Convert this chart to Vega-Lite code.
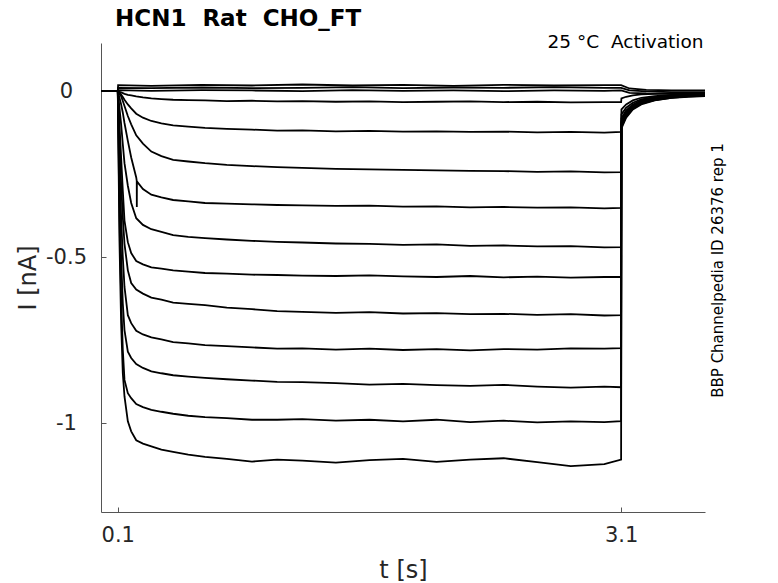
{
"$schema": "https://vega.github.io/schema/vega-lite/v6.json",
"width": 604, "height": 469,
"autosize": "none",
"padding": {"left": 101, "top": 43, "right": 73, "bottom": 71},
"background": "white",
"title": {"text": "HCN1 \u00a0Rat \u00a0CHO_FT", "anchor": "start", "frame": "group", "dx": 14, "dy": 25, "offset": 8, "baseline": "alphabetic", "fontSize": 23, "fontWeight": "bold", "font": "DejaVu Sans", "color": "#000000"},
"config": {
  "view": {"stroke": null},
  "axis": {"grid": false, "domainColor": "#555555", "tickColor": "#555555", "labelColor": "#262626", "titleColor": "#262626", "labelFont": "DejaVu Sans", "titleFont": "DejaVu Sans", "labelFontSize": 21, "titleFontSize": 24, "titleFontWeight": "normal", "tickSize": -5}
},
"datasets": {
"tr": [
{"s":2,"t":0,"i":0},{"s":2,"t":0.1,"i":0},{"s":2,"t":0.11,"i":-0.002},{"s":2,"t":0.12,"i":-0.004},{"s":2,"t":0.13,"i":-0.006},{"s":2,"t":0.14,"i":-0.008},{"s":2,"t":0.16,"i":-0.011},{"s":2,"t":0.18,"i":-0.013},{"s":2,"t":0.21,"i":-0.016},{"s":2,"t":0.25,"i":-0.019},{"s":2,"t":0.3,"i":-0.022},{"s":2,"t":0.36,"i":-0.024},{"s":2,"t":0.43,"i":-0.026},{"s":2,"t":0.52,"i":-0.027},{"s":2,"t":0.62,"i":-0.028},{"s":2,"t":0.75,"i":-0.03},{"s":2,"t":0.9,"i":-0.029},{"s":2,"t":1.05,"i":-0.031},{"s":2,"t":1.2,"i":-0.03},{"s":2,"t":1.4,"i":-0.032},{"s":2,"t":1.6,"i":-0.031},{"s":2,"t":1.8,"i":-0.033},{"s":2,"t":2.0,"i":-0.032},{"s":2,"t":2.2,"i":-0.031},{"s":2,"t":2.4,"i":-0.033},{"s":2,"t":2.6,"i":-0.032},{"s":2,"t":2.8,"i":-0.034},{"s":2,"t":3.0,"i":-0.033},{"s":2,"t":3.1,"i":-0.033},{"s":2,"t":3.102,"i":-0.022},{"s":2,"t":3.13,"i":-0.017},{"s":2,"t":3.17,"i":-0.013},{"s":2,"t":3.22,"i":-0.01},{"s":2,"t":3.3,"i":-0.008},{"s":2,"t":3.4,"i":-0.007},{"s":2,"t":3.5,"i":-0.006},{"s":2,"t":3.6,"i":-0.006},
{"s":3,"t":0,"i":0},{"s":3,"t":0.1,"i":0},{"s":3,"t":0.11,"i":-0.005},{"s":3,"t":0.12,"i":-0.01},{"s":3,"t":0.13,"i":-0.018},{"s":3,"t":0.14,"i":-0.026},{"s":3,"t":0.16,"i":-0.04},{"s":3,"t":0.18,"i":-0.052},{"s":3,"t":0.21,"i":-0.068},{"s":3,"t":0.25,"i":-0.08},{"s":3,"t":0.3,"i":-0.09},{"s":3,"t":0.36,"i":-0.097},{"s":3,"t":0.43,"i":-0.103},{"s":3,"t":0.52,"i":-0.107},{"s":3,"t":0.62,"i":-0.111},{"s":3,"t":0.75,"i":-0.114},{"s":3,"t":0.9,"i":-0.116},{"s":3,"t":1.05,"i":-0.119},{"s":3,"t":1.2,"i":-0.118},{"s":3,"t":1.4,"i":-0.121},{"s":3,"t":1.6,"i":-0.12},{"s":3,"t":1.8,"i":-0.122},{"s":3,"t":2.0,"i":-0.121},{"s":3,"t":2.2,"i":-0.123},{"s":3,"t":2.4,"i":-0.122},{"s":3,"t":2.6,"i":-0.124},{"s":3,"t":2.8,"i":-0.123},{"s":3,"t":3.0,"i":-0.125},{"s":3,"t":3.1,"i":-0.123},{"s":3,"t":3.102,"i":-0.055},{"s":3,"t":3.13,"i":-0.04},{"s":3,"t":3.17,"i":-0.028},{"s":3,"t":3.22,"i":-0.02},{"s":3,"t":3.3,"i":-0.015},{"s":3,"t":3.4,"i":-0.011},{"s":3,"t":3.5,"i":-0.009},{"s":3,"t":3.6,"i":-0.008},
{"s":4,"t":0,"i":0},{"s":4,"t":0.1,"i":0},{"s":4,"t":0.11,"i":-0.008},{"s":4,"t":0.12,"i":-0.015},{"s":4,"t":0.13,"i":-0.03},{"s":4,"t":0.14,"i":-0.045},{"s":4,"t":0.16,"i":-0.075},{"s":4,"t":0.18,"i":-0.1},{"s":4,"t":0.21,"i":-0.133},{"s":4,"t":0.25,"i":-0.158},{"s":4,"t":0.3,"i":-0.182},{"s":4,"t":0.36,"i":-0.196},{"s":4,"t":0.43,"i":-0.207},{"s":4,"t":0.52,"i":-0.212},{"s":4,"t":0.62,"i":-0.217},{"s":4,"t":0.75,"i":-0.222},{"s":4,"t":0.9,"i":-0.226},{"s":4,"t":1.05,"i":-0.229},{"s":4,"t":1.2,"i":-0.231},{"s":4,"t":1.4,"i":-0.234},{"s":4,"t":1.6,"i":-0.236},{"s":4,"t":1.8,"i":-0.237},{"s":4,"t":2.0,"i":-0.239},{"s":4,"t":2.2,"i":-0.24},{"s":4,"t":2.4,"i":-0.241},{"s":4,"t":2.6,"i":-0.243},{"s":4,"t":2.8,"i":-0.242},{"s":4,"t":3.0,"i":-0.245},{"s":4,"t":3.1,"i":-0.244},{"s":4,"t":3.102,"i":-0.07},{"s":4,"t":3.13,"i":-0.05},{"s":4,"t":3.17,"i":-0.035},{"s":4,"t":3.22,"i":-0.025},{"s":4,"t":3.3,"i":-0.018},{"s":4,"t":3.4,"i":-0.013},{"s":4,"t":3.5,"i":-0.011},{"s":4,"t":3.6,"i":-0.009},
{"s":5,"t":0,"i":0},{"s":5,"t":0.1,"i":0},{"s":5,"t":0.11,"i":-0.02},{"s":5,"t":0.12,"i":-0.04},{"s":5,"t":0.13,"i":-0.065},{"s":5,"t":0.14,"i":-0.096},{"s":5,"t":0.16,"i":-0.15},{"s":5,"t":0.18,"i":-0.2},{"s":5,"t":0.21,"i":-0.26},{"s":5,"t":0.213,"i":-0.27},{"s":5,"t":0.2135,"i":-0.349},{"s":5,"t":0.214,"i":-0.272},{"s":5,"t":0.25,"i":-0.295},{"s":5,"t":0.3,"i":-0.312},{"s":5,"t":0.36,"i":-0.32},{"s":5,"t":0.43,"i":-0.328},{"s":5,"t":0.52,"i":-0.332},{"s":5,"t":0.62,"i":-0.337},{"s":5,"t":0.75,"i":-0.339},{"s":5,"t":0.9,"i":-0.341},{"s":5,"t":1.05,"i":-0.343},{"s":5,"t":1.2,"i":-0.344},{"s":5,"t":1.4,"i":-0.346},{"s":5,"t":1.6,"i":-0.345},{"s":5,"t":1.8,"i":-0.348},{"s":5,"t":2.0,"i":-0.347},{"s":5,"t":2.2,"i":-0.35},{"s":5,"t":2.4,"i":-0.349},{"s":5,"t":2.6,"i":-0.351},{"s":5,"t":2.8,"i":-0.35},{"s":5,"t":3.0,"i":-0.353},{"s":5,"t":3.1,"i":-0.352},{"s":5,"t":3.102,"i":-0.082},{"s":5,"t":3.13,"i":-0.058},{"s":5,"t":3.17,"i":-0.04},{"s":5,"t":3.22,"i":-0.028},{"s":5,"t":3.3,"i":-0.02},{"s":5,"t":3.4,"i":-0.015},{"s":5,"t":3.5,"i":-0.012},{"s":5,"t":3.6,"i":-0.01},
{"s":6,"t":0,"i":0},{"s":6,"t":0.1,"i":0},{"s":6,"t":0.11,"i":-0.05},{"s":6,"t":0.12,"i":-0.1},{"s":6,"t":0.13,"i":-0.16},{"s":6,"t":0.14,"i":-0.217},{"s":6,"t":0.16,"i":-0.285},{"s":6,"t":0.18,"i":-0.337},{"s":6,"t":0.21,"i":-0.383},{"s":6,"t":0.25,"i":-0.403},{"s":6,"t":0.3,"i":-0.416},{"s":6,"t":0.36,"i":-0.424},{"s":6,"t":0.43,"i":-0.434},{"s":6,"t":0.52,"i":-0.439},{"s":6,"t":0.62,"i":-0.443},{"s":6,"t":0.75,"i":-0.447},{"s":6,"t":0.9,"i":-0.451},{"s":6,"t":1.05,"i":-0.454},{"s":6,"t":1.2,"i":-0.456},{"s":6,"t":1.4,"i":-0.459},{"s":6,"t":1.6,"i":-0.46},{"s":6,"t":1.8,"i":-0.463},{"s":6,"t":2.0,"i":-0.462},{"s":6,"t":2.2,"i":-0.466},{"s":6,"t":2.4,"i":-0.465},{"s":6,"t":2.6,"i":-0.468},{"s":6,"t":2.8,"i":-0.467},{"s":6,"t":3.0,"i":-0.471},{"s":6,"t":3.1,"i":-0.47},{"s":6,"t":3.102,"i":-0.09},{"s":6,"t":3.13,"i":-0.064},{"s":6,"t":3.17,"i":-0.044},{"s":6,"t":3.22,"i":-0.031},{"s":6,"t":3.3,"i":-0.022},{"s":6,"t":3.4,"i":-0.016},{"s":6,"t":3.5,"i":-0.013},{"s":6,"t":3.6,"i":-0.011},
{"s":7,"t":0,"i":0},{"s":7,"t":0.1,"i":0},{"s":7,"t":0.11,"i":-0.1},{"s":7,"t":0.12,"i":-0.2},{"s":7,"t":0.13,"i":-0.3},{"s":7,"t":0.14,"i":-0.39},{"s":7,"t":0.16,"i":-0.455},{"s":7,"t":0.18,"i":-0.488},{"s":7,"t":0.21,"i":-0.512},{"s":7,"t":0.25,"i":-0.522},{"s":7,"t":0.3,"i":-0.531},{"s":7,"t":0.36,"i":-0.535},{"s":7,"t":0.43,"i":-0.54},{"s":7,"t":0.52,"i":-0.544},{"s":7,"t":0.62,"i":-0.548},{"s":7,"t":0.75,"i":-0.55},{"s":7,"t":0.9,"i":-0.553},{"s":7,"t":1.05,"i":-0.554},{"s":7,"t":1.2,"i":-0.556},{"s":7,"t":1.4,"i":-0.557},{"s":7,"t":1.6,"i":-0.555},{"s":7,"t":1.8,"i":-0.558},{"s":7,"t":2.0,"i":-0.56},{"s":7,"t":2.2,"i":-0.557},{"s":7,"t":2.4,"i":-0.561},{"s":7,"t":2.6,"i":-0.559},{"s":7,"t":2.8,"i":-0.562},{"s":7,"t":3.0,"i":-0.56},{"s":7,"t":3.1,"i":-0.56},{"s":7,"t":3.102,"i":-0.094},{"s":7,"t":3.13,"i":-0.067},{"s":7,"t":3.17,"i":-0.046},{"s":7,"t":3.22,"i":-0.033},{"s":7,"t":3.3,"i":-0.023},{"s":7,"t":3.4,"i":-0.017},{"s":7,"t":3.5,"i":-0.014},{"s":7,"t":3.6,"i":-0.012},
{"s":8,"t":0,"i":0},{"s":8,"t":0.1,"i":0},{"s":8,"t":0.11,"i":-0.15},{"s":8,"t":0.12,"i":-0.28},{"s":8,"t":0.13,"i":-0.38},{"s":8,"t":0.14,"i":-0.46},{"s":8,"t":0.16,"i":-0.54},{"s":8,"t":0.18,"i":-0.578},{"s":8,"t":0.21,"i":-0.598},{"s":8,"t":0.25,"i":-0.61},{"s":8,"t":0.3,"i":-0.622},{"s":8,"t":0.36,"i":-0.628},{"s":8,"t":0.43,"i":-0.637},{"s":8,"t":0.52,"i":-0.641},{"s":8,"t":0.62,"i":-0.645},{"s":8,"t":0.75,"i":-0.652},{"s":8,"t":0.9,"i":-0.657},{"s":8,"t":1.05,"i":-0.663},{"s":8,"t":1.2,"i":-0.665},{"s":8,"t":1.4,"i":-0.668},{"s":8,"t":1.6,"i":-0.666},{"s":8,"t":1.8,"i":-0.67},{"s":8,"t":2.0,"i":-0.669},{"s":8,"t":2.2,"i":-0.672},{"s":8,"t":2.4,"i":-0.671},{"s":8,"t":2.6,"i":-0.674},{"s":8,"t":2.8,"i":-0.672},{"s":8,"t":3.0,"i":-0.676},{"s":8,"t":3.1,"i":-0.675},{"s":8,"t":3.102,"i":-0.097},{"s":8,"t":3.13,"i":-0.069},{"s":8,"t":3.17,"i":-0.048},{"s":8,"t":3.22,"i":-0.034},{"s":8,"t":3.3,"i":-0.024},{"s":8,"t":3.4,"i":-0.018},{"s":8,"t":3.5,"i":-0.014},{"s":8,"t":3.6,"i":-0.012},
{"s":9,"t":0,"i":0},{"s":9,"t":0.1,"i":0},{"s":9,"t":0.11,"i":-0.22},{"s":9,"t":0.12,"i":-0.38},{"s":9,"t":0.13,"i":-0.5},{"s":9,"t":0.14,"i":-0.59},{"s":9,"t":0.16,"i":-0.675},{"s":9,"t":0.18,"i":-0.699},{"s":9,"t":0.21,"i":-0.722},{"s":9,"t":0.25,"i":-0.733},{"s":9,"t":0.3,"i":-0.742},{"s":9,"t":0.36,"i":-0.748},{"s":9,"t":0.43,"i":-0.756},{"s":9,"t":0.52,"i":-0.76},{"s":9,"t":0.62,"i":-0.765},{"s":9,"t":0.75,"i":-0.768},{"s":9,"t":0.9,"i":-0.772},{"s":9,"t":1.05,"i":-0.776},{"s":9,"t":1.2,"i":-0.775},{"s":9,"t":1.4,"i":-0.779},{"s":9,"t":1.6,"i":-0.776},{"s":9,"t":1.8,"i":-0.78},{"s":9,"t":2.0,"i":-0.777},{"s":9,"t":2.2,"i":-0.781},{"s":9,"t":2.4,"i":-0.777},{"s":9,"t":2.6,"i":-0.779},{"s":9,"t":2.8,"i":-0.775},{"s":9,"t":3.0,"i":-0.776},{"s":9,"t":3.1,"i":-0.774},{"s":9,"t":3.102,"i":-0.1},{"s":9,"t":3.13,"i":-0.071},{"s":9,"t":3.17,"i":-0.049},{"s":9,"t":3.22,"i":-0.035},{"s":9,"t":3.3,"i":-0.025},{"s":9,"t":3.4,"i":-0.018},{"s":9,"t":3.5,"i":-0.015},{"s":9,"t":3.6,"i":-0.013},
{"s":10,"t":0,"i":0},{"s":10,"t":0.1,"i":0},{"s":10,"t":0.11,"i":-0.3},{"s":10,"t":0.12,"i":-0.5},{"s":10,"t":0.13,"i":-0.64},{"s":10,"t":0.14,"i":-0.72},{"s":10,"t":0.16,"i":-0.785},{"s":10,"t":0.18,"i":-0.804},{"s":10,"t":0.21,"i":-0.822},{"s":10,"t":0.25,"i":-0.834},{"s":10,"t":0.3,"i":-0.844},{"s":10,"t":0.36,"i":-0.85},{"s":10,"t":0.43,"i":-0.856},{"s":10,"t":0.52,"i":-0.86},{"s":10,"t":0.62,"i":-0.864},{"s":10,"t":0.75,"i":-0.868},{"s":10,"t":0.9,"i":-0.872},{"s":10,"t":1.05,"i":-0.876},{"s":10,"t":1.2,"i":-0.877},{"s":10,"t":1.4,"i":-0.88},{"s":10,"t":1.6,"i":-0.884},{"s":10,"t":1.8,"i":-0.882},{"s":10,"t":2.0,"i":-0.886},{"s":10,"t":2.2,"i":-0.888},{"s":10,"t":2.4,"i":-0.885},{"s":10,"t":2.6,"i":-0.89},{"s":10,"t":2.8,"i":-0.893},{"s":10,"t":3.0,"i":-0.89},{"s":10,"t":3.1,"i":-0.892},{"s":10,"t":3.102,"i":-0.104},{"s":10,"t":3.13,"i":-0.074},{"s":10,"t":3.17,"i":-0.051},{"s":10,"t":3.22,"i":-0.037},{"s":10,"t":3.3,"i":-0.026},{"s":10,"t":3.4,"i":-0.019},{"s":10,"t":3.5,"i":-0.015},{"s":10,"t":3.6,"i":-0.013},
{"s":11,"t":0,"i":0},{"s":11,"t":0.1,"i":0},{"s":11,"t":0.11,"i":-0.38},{"s":11,"t":0.12,"i":-0.62},{"s":11,"t":0.13,"i":-0.78},{"s":11,"t":0.14,"i":-0.87},{"s":11,"t":0.16,"i":-0.91},{"s":11,"t":0.18,"i":-0.925},{"s":11,"t":0.21,"i":-0.943},{"s":11,"t":0.25,"i":-0.952},{"s":11,"t":0.3,"i":-0.96},{"s":11,"t":0.36,"i":-0.966},{"s":11,"t":0.43,"i":-0.972},{"s":11,"t":0.52,"i":-0.978},{"s":11,"t":0.62,"i":-0.982},{"s":11,"t":0.75,"i":-0.985},{"s":11,"t":0.9,"i":-0.99},{"s":11,"t":1.05,"i":-0.99},{"s":11,"t":1.2,"i":-0.988},{"s":11,"t":1.4,"i":-0.993},{"s":11,"t":1.6,"i":-0.99},{"s":11,"t":1.8,"i":-0.995},{"s":11,"t":2.0,"i":-0.99},{"s":11,"t":2.2,"i":-0.997},{"s":11,"t":2.4,"i":-0.993},{"s":11,"t":2.6,"i":-0.998},{"s":11,"t":2.8,"i":-0.995},{"s":11,"t":3.0,"i":-0.997},{"s":11,"t":3.1,"i":-0.994},{"s":11,"t":3.102,"i":-0.108},{"s":11,"t":3.13,"i":-0.077},{"s":11,"t":3.17,"i":-0.053},{"s":11,"t":3.22,"i":-0.038},{"s":11,"t":3.3,"i":-0.027},{"s":11,"t":3.4,"i":-0.02},{"s":11,"t":3.5,"i":-0.016},{"s":11,"t":3.6,"i":-0.014},
{"s":12,"t":0,"i":0},{"s":12,"t":0.1,"i":0},{"s":12,"t":0.11,"i":-0.45},{"s":12,"t":0.12,"i":-0.7},{"s":12,"t":0.13,"i":-0.85},{"s":12,"t":0.14,"i":-0.92},{"s":12,"t":0.16,"i":-0.995},{"s":12,"t":0.18,"i":-1.025},{"s":12,"t":0.21,"i":-1.052},{"s":12,"t":0.25,"i":-1.062},{"s":12,"t":0.3,"i":-1.07},{"s":12,"t":0.36,"i":-1.08},{"s":12,"t":0.43,"i":-1.087},{"s":12,"t":0.52,"i":-1.095},{"s":12,"t":0.62,"i":-1.102},{"s":12,"t":0.75,"i":-1.108},{"s":12,"t":0.9,"i":-1.116},{"s":12,"t":1.05,"i":-1.11},{"s":12,"t":1.2,"i":-1.113},{"s":12,"t":1.4,"i":-1.119},{"s":12,"t":1.6,"i":-1.112},{"s":12,"t":1.8,"i":-1.108},{"s":12,"t":2.0,"i":-1.117},{"s":12,"t":2.2,"i":-1.11},{"s":12,"t":2.4,"i":-1.106},{"s":12,"t":2.6,"i":-1.118},{"s":12,"t":2.8,"i":-1.13},{"s":12,"t":3.0,"i":-1.124},{"s":12,"t":3.1,"i":-1.11},{"s":12,"t":3.102,"i":-0.112},{"s":12,"t":3.13,"i":-0.08},{"s":12,"t":3.17,"i":-0.055},{"s":12,"t":3.22,"i":-0.04},{"s":12,"t":3.3,"i":-0.028},{"s":12,"t":3.4,"i":-0.02},{"s":12,"t":3.5,"i":-0.017},{"s":12,"t":3.6,"i":-0.015},
{"s":13,"t":0,"i":0},{"s":13,"t":0.1,"i":0},{"s":13,"t":0.102,"i":0.018},{"s":13,"t":0.3,"i":0.016},{"s":13,"t":0.6,"i":0.019},{"s":13,"t":0.9,"i":0.017},{"s":13,"t":1.2,"i":0.02},{"s":13,"t":1.5,"i":0.017},{"s":13,"t":1.8,"i":0.019},{"s":13,"t":2.1,"i":0.016},{"s":13,"t":2.4,"i":0.019},{"s":13,"t":2.7,"i":0.017},{"s":13,"t":3.0,"i":0.018},{"s":13,"t":3.1,"i":0.018},{"s":13,"t":3.15,"i":0.008},{"s":13,"t":3.25,"i":0.004},{"s":13,"t":3.4,"i":0.002},{"s":13,"t":3.6,"i":0.002},
{"s":14,"t":0,"i":0},{"s":14,"t":0.1,"i":0},{"s":14,"t":0.102,"i":0.01},{"s":14,"t":0.3,"i":0.009},{"s":14,"t":0.6,"i":0.011},{"s":14,"t":0.9,"i":0.009},{"s":14,"t":1.2,"i":0.01},{"s":14,"t":1.5,"i":0.012},{"s":14,"t":1.8,"i":0.009},{"s":14,"t":2.1,"i":0.011},{"s":14,"t":2.4,"i":0.01},{"s":14,"t":2.7,"i":0.012},{"s":14,"t":3.0,"i":0.01},{"s":14,"t":3.1,"i":0.01},{"s":14,"t":3.15,"i":0.002},{"s":14,"t":3.25,"i":-0.001},{"s":14,"t":3.4,"i":-0.003},{"s":14,"t":3.6,"i":-0.003},
{"s":15,"t":0,"i":0},{"s":15,"t":0.1,"i":0},{"s":15,"t":0.102,"i":0.003},{"s":15,"t":0.3,"i":0.001},{"s":15,"t":0.6,"i":0.003},{"s":15,"t":0.9,"i":0.002},{"s":15,"t":1.2,"i":0.0},{"s":15,"t":1.5,"i":0.003},{"s":15,"t":1.8,"i":0.001},{"s":15,"t":2.1,"i":0.002},{"s":15,"t":2.4,"i":0.0},{"s":15,"t":2.7,"i":0.002},{"s":15,"t":3.0,"i":0.001},{"s":15,"t":3.1,"i":0.002},{"s":15,"t":3.15,"i":-0.005},{"s":15,"t":3.25,"i":-0.007},{"s":15,"t":3.4,"i":-0.008},{"s":15,"t":3.6,"i":-0.008}
]
},
"data": {"name": "tr"},
"layer": [
  {
    "mark": {"type": "line", "color": "#000000", "strokeWidth": 1.8},
    "encoding": {
      "x": {"field": "t", "type": "quantitative", "scale": {"domain": [0, 3.6], "nice": false, "zero": false},
            "axis": {"values": [0.1, 3.1], "labelExpr": "format(datum.value, '.1f')", "title": "t [s]", "labelPadding": 34, "labelBaseline": "alphabetic", "titleY": 65, "titleBaseline": "alphabetic"}},
      "y": {"field": "i", "type": "quantitative", "scale": {"domain": [-1.268, 0.145], "nice": false, "zero": false},
            "axis": {"values": [0, -0.5, -1], "labelExpr": "datum.value == 0 ? '0' : (datum.value == -0.5 ? '-0.5' : '-1')", "title": "I [nA]", "labelAlign": "center", "labelPadding": 40, "titleX": -73, "titleBaseline": "middle"}},
      "detail": {"field": "s", "type": "nominal"}
    }
  },
  {
    "mark": {"type": "line", "opacity": 0},
    "encoding": {
      "x": {"field": "t", "type": "quantitative",
            "axis": {"orient": "top", "domain": false, "ticks": false, "labels": false, "title": "25 °C \u00a0Activation", "titleAlign": "right", "titleAnchor": "end", "titleX": 602, "titleY": 4, "titleBaseline": "alphabetic", "titleFontSize": 18.5, "titleColor": "#000000"}},
      "y": {"field": "i", "type": "quantitative",
            "axis": {"orient": "right", "domain": false, "ticks": false, "labels": false, "title": "BBP Channelpedia ID 26376 rep 1", "titleAngle": -90, "titleX": 12, "titleY": 227, "titleBaseline": "middle", "titleAlign": "center", "titleFontSize": 15, "titleColor": "#000000"}},
      "detail": {"field": "s", "type": "nominal"}
    }
  }
],
"resolve": {"axis": {"x": "independent", "y": "independent"}}
}
